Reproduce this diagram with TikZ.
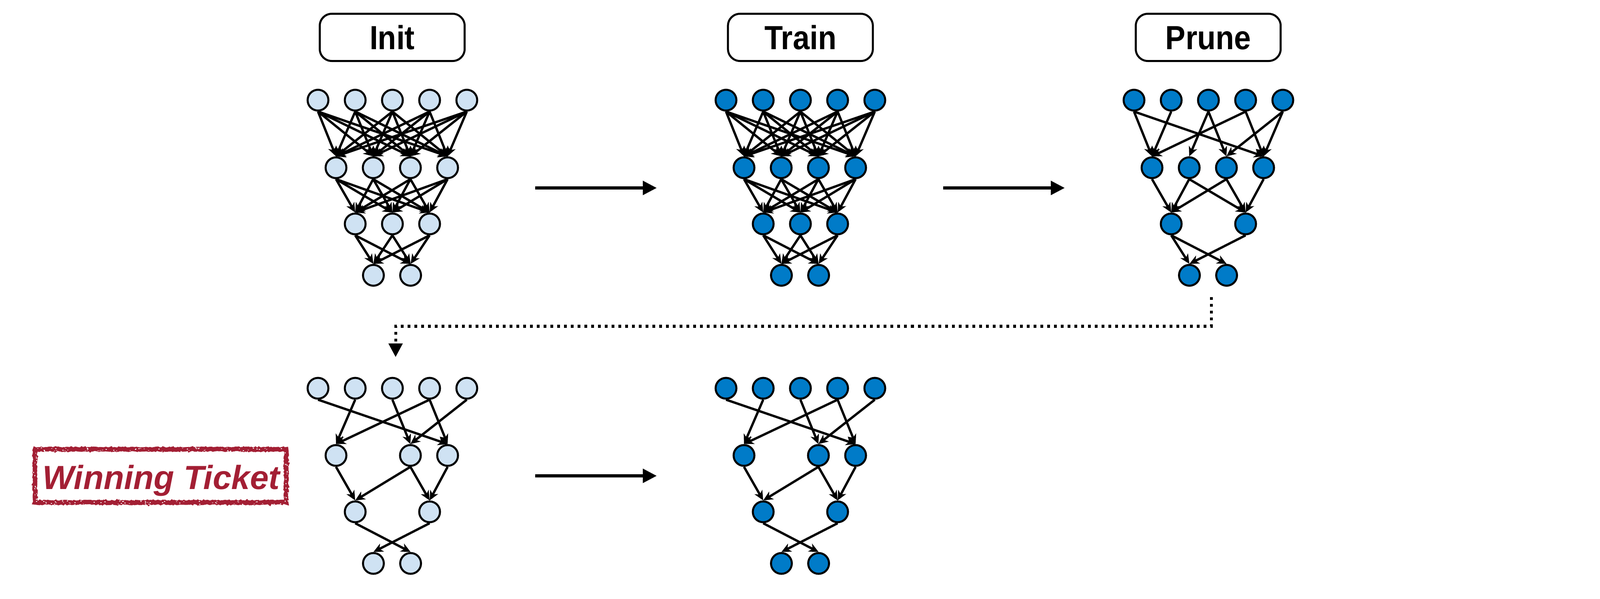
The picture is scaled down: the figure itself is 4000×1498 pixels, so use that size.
\documentclass[tikz,border=0pt]{standalone}
\usepackage{fontspec}
\setmainfont{Liberation Sans}
\newfontfamily\lblfont[FakeStretch=0.9]{Liberation Sans}
\usetikzlibrary{arrows.meta,decorations.pathmorphing}
\definecolor{lightnode}{RGB}{207,226,243}
\definecolor{darknode}{RGB}{0,123,200}
\definecolor{ticketred}{RGB}{163,31,52}
\begin{document}
\begin{tikzpicture}[x=0.01cm,y=-0.01cm,
  lnode/.style={circle, draw=black, line width=0.05cm, fill=lightnode, minimum size=0.52cm, inner sep=0pt},
  dnode/.style={lnode, fill=darknode},
  edge/.style={line width=0.058cm, -{Stealth[length=0.24cm,width=0.22cm,inset=0.07cm]}},
  stage/.style={draw, line width=0.05cm, rounded corners=0.3cm, minimum width=3.62cm, minimum height=1.18cm, text height=0.6cm, text depth=0cm, font=\lblfont\bfseries\fontsize{23.8}{28}\selectfont},
  bigarrow/.style={line width=0.08cm, -{Triangle[length=0.35cm,width=0.34cm]}},
  dotarrow/.style={line width=0.07cm, dash pattern=on 0.07cm off 0.1cm, -{Triangle[length=0.34cm,width=0.34cm]}},
]
\useasboundingbox (0,0) rectangle (4000,1498);

% stage labels
\node[stage] (init)  at (980.5,93.5) {Init};
\node[stage] (train) at (2001,93.5) {Train};
\node[stage] (prune) at (3020.5,93.5) {Prune};

% fully connected networks (Init, Train)
\foreach \p/\dx/\st in {a/0/lnode, b/1020/dnode} {
  \foreach \i in {1,...,5} \node[\st] (\p1-\i) at ({702+93*\i+\dx},250.5) {};
  \foreach \i in {1,...,4} \node[\st] (\p2-\i) at ({747+93*\i+\dx},419.5) {};
  \foreach \i in {1,...,3} \node[\st] (\p3-\i) at ({795+93*\i+\dx},560) {};
  \foreach \i in {1,...,2} \node[\st] (\p4-\i) at ({840.5+93*\i+\dx},688.5) {};
  \foreach \i in {1,...,5} \foreach \j in {1,...,4} \draw[edge] (\p1-\i.south) -- (\p2-\j.north);
  \foreach \i in {1,...,4} \foreach \j in {1,...,3} \draw[edge] (\p2-\i.south) -- (\p3-\j.north);
  \foreach \i in {1,...,3} \foreach \j in {1,...,2} \draw[edge] (\p3-\i.south) -- (\p4-\j.north);
}

% pruned network
\foreach \i in {1,...,5} \node[dnode] (c1-\i) at ({702+93*\i+2040},250.5) {};
\foreach \i in {1,...,4} \node[dnode] (c2-\i) at ({747+93*\i+2040},419.5) {};
\foreach \i in {1,3} \node[dnode] (c3-\i) at ({795+93*\i+2040},560) {};
\foreach \i in {1,...,2} \node[dnode] (c4-\i) at ({840.5+93*\i+2040},688.5) {};
\foreach \s/\t in {1-1/2-1, 1-1/2-4, 1-2/2-1, 1-3/2-2, 1-3/2-3, 1-4/2-1, 1-4/2-4, 1-5/2-3, 1-5/2-4,
                   2-1/3-1, 2-2/3-1, 2-2/3-3, 2-3/3-1, 2-3/3-3, 2-4/3-3,
                   3-1/4-1, 3-1/4-2, 3-3/4-1}
  \draw[edge] (c\s.south) -- (c\t.north);

% winning ticket networks
\foreach \p/\dx/\st in {d/0/lnode, e/1020/dnode} {
  \foreach \i in {1,...,5} \node[\st] (\p1-\i) at ({702+93*\i+\dx},971) {};
  \foreach \i in {1,3,4} \node[\st] (\p2-\i) at ({747+93*\i+\dx},1139) {};
  \foreach \i in {1,3} \node[\st] (\p3-\i) at ({795+93*\i+\dx},1280) {};
  \foreach \i in {1,...,2} \node[\st] (\p4-\i) at ({840.5+93*\i+\dx},1409) {};
  \foreach \s/\t in {1-1/2-4, 1-2/2-1, 1-3/2-3, 1-4/2-1, 1-4/2-4, 1-5/2-3,
                     2-1/3-1, 2-3/3-1, 2-3/3-3, 2-4/3-3,
                     3-1/4-2, 3-3/4-1}
    \draw[edge] (\p\s.south) -- (\p\t.north);
}

% process arrows
\coordinate (r1s) at (1338,470); \coordinate (r1e) at (1642,470);
\coordinate (r2s) at (2358,470); \coordinate (r2e) at (2662,470);
\coordinate (r3s) at (1338,1190); \coordinate (r3e) at (1642,1190);
\draw[bigarrow] (r1s) -- (r1e);
\draw[bigarrow] (r2s) -- (r2e);
\draw[bigarrow] (r3s) -- (r3e);

% rewind (dotted) arrow
\coordinate (q0) at (3028,743);
\coordinate (q1) at (3028,816);
\coordinate (q2) at (989,816);
\coordinate (q3) at (989,893);
\draw[dotarrow] (q0) -- (q1) -- (q2) -- (q3);

% winning ticket stamp
\node[text=ticketred, font=\bfseries\itshape\fontsize{23.8}{28}\selectfont, text height=0.6cm, text depth=0cm, inner sep=0pt] (wt) at (403,1193) {Winning Ticket};
\draw[ticketred, line width=0.11cm, decorate, decoration={random steps, segment length=0.03cm, amplitude=0.015cm}]
  (87.5,1123.5) rectangle (715.5,1256.5);
\pgfmathsetseed{7}
\foreach \k in {1,...,60}{
  \pgfmathsetmacro\xx{90+620*rnd}
  \pgfmathsetmacro\yy{1119+9*rnd}
  \fill[white] (\xx,\yy) rectangle ++(3,1.5);
  \pgfmathsetmacro\xb{90+620*rnd}
  \pgfmathsetmacro\yb{1252+9*rnd}
  \fill[white] (\xb,\yb) rectangle ++(3,1.5);
}
\foreach \k in {1,...,15}{
  \pgfmathsetmacro\ya{1125+130*rnd}
  \pgfmathsetmacro\xa{83+9*rnd}
  \fill[white] (\xa,\ya) rectangle ++(1.5,3);
  \pgfmathsetmacro\yc{1125+130*rnd}
  \pgfmathsetmacro\xc{711+9*rnd}
  \fill[white] (\xc,\yc) rectangle ++(1.5,3);
}
\end{tikzpicture}
\end{document}
